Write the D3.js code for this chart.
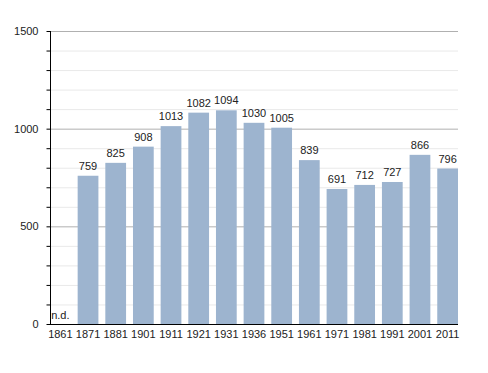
<!DOCTYPE html>
<html>
<head>
<meta charset="utf-8">
<script src="https://cdn.jsdelivr.net/npm/d3@7"></script>
<style>
  body { margin: 0; background: #fff; }
  text { font-family: "Liberation Sans", Arial, sans-serif; fill: #222; }
</style>
</head>
<body>
<svg></svg>
<script>
let years = ['1861', '1871', '1881', '1901', '1911', '1921', '1931', '1936', '1951', '1961', '1971', '1981', '1991', '2001', '2011']
let population = [null, 759, 825, 908, 1013, 1082, 1094, 1030, 1005, 839, 691, 712, 727, 866, 796]
let yTicks = [0, 500, 1000, 1500]
let minorTicks = d3.range(0, 1501, 100)

let width = 488
let height = 373
let plotLeft = 50
let plotRight = 458
let plotTop = 31
let plotBottom = 324

let svg = d3.select('svg')
    .attr('width', width)
    .attr('height', height)

let xScale = d3.scaleBand()
    .domain(years)
    .range([plotLeft, plotRight])
    .paddingInner(0.25)
    .paddingOuter(0)

let yScale = d3.scaleLinear()
    .domain([0, 1500])
    .range([plotBottom, plotTop])

// light grid every 100
svg.append('g')
   .selectAll('line')
   .data(minorTicks.filter(d => d % 500 != 0))
   .enter()
   .append('line')
   .attr('x1', plotLeft)
   .attr('x2', plotRight)
   .attr('y1', d => yScale(d) + 0.5)
   .attr('y2', d => yScale(d) + 0.5)
   .attr('stroke', '#e9e9e9')

// major grid
svg.append('g')
   .selectAll('line')
   .data(yTicks.filter(d => d > 0))
   .enter()
   .append('line')
   .attr('x1', plotLeft)
   .attr('x2', plotRight)
   .attr('y1', d => yScale(d) + 0.5)
   .attr('y2', d => yScale(d) + 0.5)
   .attr('stroke', '#b0b0b0')

let data = years.map((y, i) => ({year: y, value: population[i]}))

svg.append('g')
   .selectAll('rect')
   .data(data.filter(d => d.value != null))
   .enter()
   .append('rect')
   .attr('x', d => xScale(d.year))
   .attr('width', xScale.bandwidth())
   .attr('y', d => yScale(d.value))
   .attr('height', d => yScale(0) - yScale(d.value))
   .attr('fill', '#9db4cf')

svg.append('g')
   .selectAll('text')
   .data(data)
   .enter()
   .append('text')
   .attr('x', d => xScale(d.year) + xScale.bandwidth() / 2)
   .attr('y', d => d.value == null ? yScale(0) - 5 : yScale(d.value) - 6)
   .attr('text-anchor', 'middle')
   .attr('font-size', 11)
   .text(d => d.value == null ? 'n.d.' : d.value)

// y axis
let yAxis = d3.axisLeft(yScale)
    .tickValues(minorTicks)
    .tickSize(4)
    .tickFormat(d => yTicks.includes(d) ? d : '')
svg.append('g')
   .attr('transform', 'translate(' + (plotLeft + 0.5) + ',0)')
   .call(yAxis)
   .call(g => g.select('.domain').attr('d', 'M0,' + plotTop + 'V' + plotBottom))
   .call(g => g.selectAll('text').attr('font-size', 11).attr('x', -12).style('font-family', '"Liberation Sans", Arial, sans-serif').attr('fill', '#222'))

// x axis
let xAxis = d3.axisBottom(xScale).tickSize(0).tickPadding(6)
svg.append('g')
   .attr('transform', 'translate(0,' + (plotBottom + 0.5) + ')')
   .call(xAxis)
   .call(g => g.select('.domain').attr('d', 'M' + plotLeft + ',0H' + plotRight))
   .call(g => g.selectAll('text').attr('font-size', 11).style('font-family', '"Liberation Sans", Arial, sans-serif').attr('fill', '#222'))
</script>
</body>
</html>
